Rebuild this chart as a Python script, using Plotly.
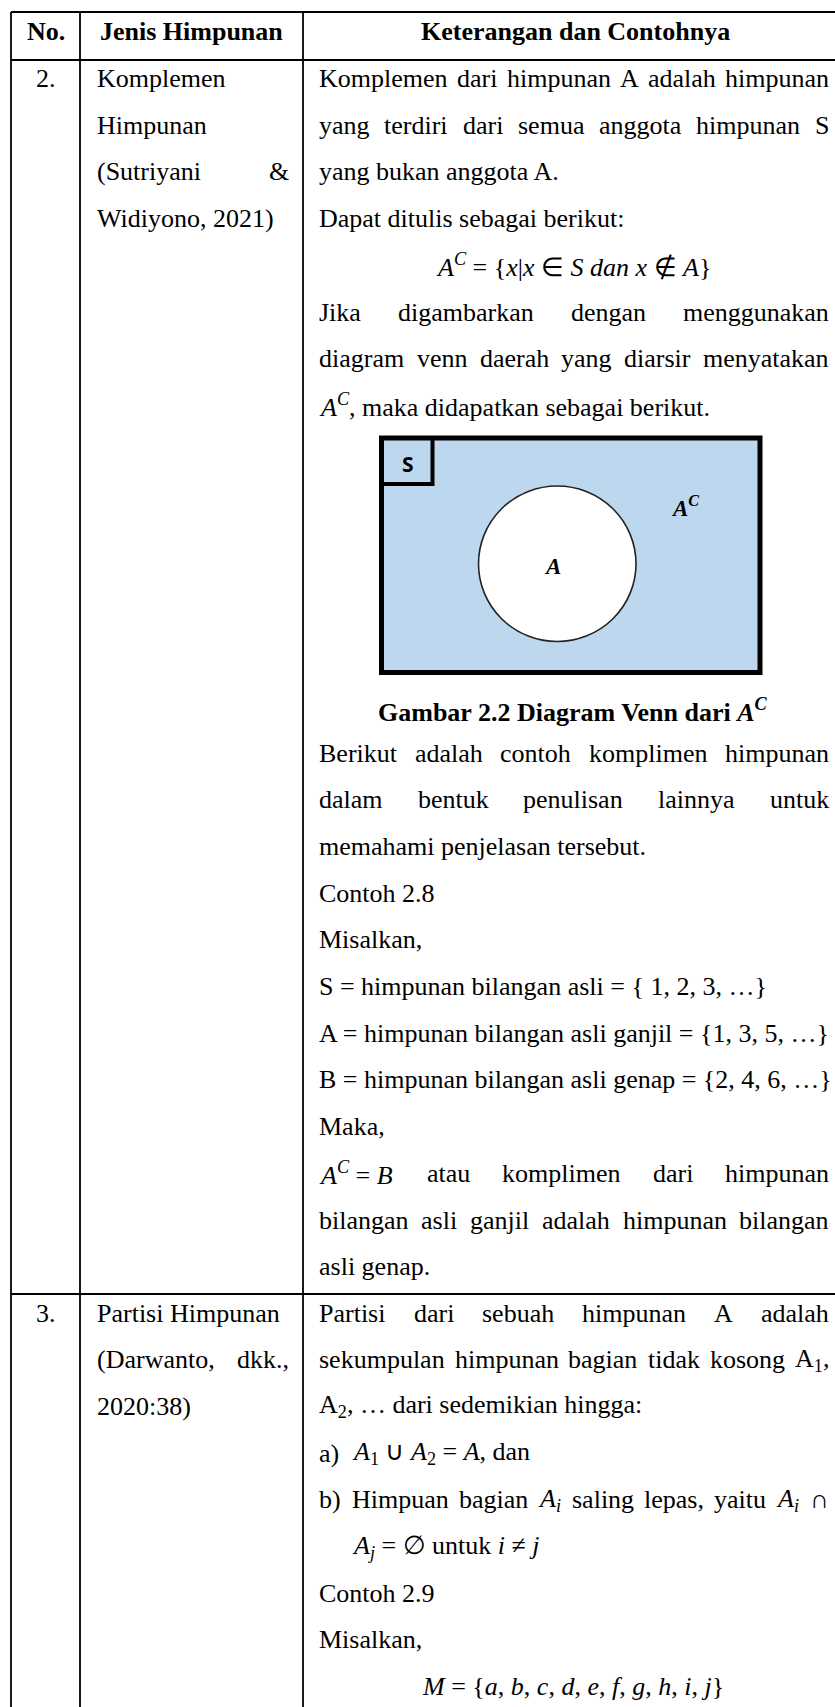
import re
import plotly.graph_objects as go

# page / table frame (pixels)
W, H = 835, 1707
col_x = [11, 80, 303]          # left border, after "No.", after "Jenis Himpunan"
row_y = [12, 60, 1294]         # top border, under header, between rows 2 and 3

header = ["No.", "Jenis Himpunan", "Keterangan dan Contohnya"]
row_numbers = ["2.", "3."]

# column "Jenis Himpunan"  (align, text)
row2_jenis = [("L", "Komplemen"), ("L", "Himpunan"), ("J", "(Sutriyani &"), ("L", "Widiyono, 2021)")]
row3_jenis = [("L", "Partisi Himpunan"), ("J", "(Darwanto, dkk.,"), ("L", "2020:38)")]

# column "Keterangan dan Contohnya", row 2, before the Venn figure
row2_top = [
    ("J", "Komplemen dari himpunan A adalah himpunan"),
    ("J", "yang terdiri dari semua anggota himpunan S"),
    ("L", "yang bukan anggota A."),
    ("L", "Dapat ditulis sebagai berikut:"),
    ("C", "<i>A</i><sup><i>C</i></sup> = {<i>x</i>|<i>x</i> ∈ <i>S dan x</i> ∉ <i>A</i>}"),
    ("J", "Jika digambarkan dengan menggunakan"),
    ("J", "diagram venn daerah yang diarsir menyatakan"),
    ("L", "<i>A</i><sup><i>C</i></sup>, maka didapatkan sebagai berikut."),
]
caption = "Gambar 2.2 Diagram Venn dari <i>A</i><sup><i>C</i></sup>"
venn_labels = ["S", "<b><i>A</i></b>", "<b><i>A</i></b><sup><b><i>C</i></b></sup>"]

# row 2, after the figure
row2_bottom = [
    ("J", "Berikut adalah contoh komplimen himpunan"),
    ("J", "dalam bentuk penulisan lainnya untuk"),
    ("L", "memahami penjelasan tersebut."),
    ("L", "Contoh 2.8"),
    ("L", "Misalkan,"),
    ("L", "S = himpunan bilangan asli = { 1, 2, 3, …}"),
    ("L", "A = himpunan bilangan asli ganjil = {1, 3, 5, …}"),
    ("L", "B = himpunan bilangan asli genap = {2, 4, 6, …}"),
    ("L", "Maka,"),
    ("J", "<i>A</i><sup><i>C</i></sup>\u00a0=\u00a0<i>B</i> atau komplimen dari himpunan"),
    ("J", "bilangan asli ganjil adalah himpunan bilangan"),
    ("L", "asli genap."),
]

# row 3
row3_text = [
    ("J", "Partisi dari sebuah himpunan A adalah"),
    ("J", "sekumpulan himpunan bagian tidak kosong A<sub>1</sub>,"),
    ("L", "A<sub>2</sub>, … dari sedemikian hingga:"),
    ("L", "a)\t<i>A</i><sub>1</sub> ∪ <i>A</i><sub>2</sub> = <i>A</i>, dan"),
    ("J", "b)\tHimpuan bagian <i>A<sub>i</sub></i> saling lepas, yaitu <i>A<sub>i</sub></i> ∩"),
    ("L", "\t<i>A<sub>j</sub></i> = ∅ untuk <i>i</i> ≠ <i>j</i>"),
    ("L", "Contoh 2.9"),
    ("L", "Misalkan,"),
    ("C", "<i>M</i> = {<i>a</i>, <i>b</i>, <i>c</i>, <i>d</i>, <i>e</i>, <i>f</i>, <i>g</i>, <i>h</i>, <i>i</i>, <i>j</i>}"),
]

FONT = "Liberation Serif"
SIZE = 26
LINE = 46.7

# Times New Roman advance widths (Liberation Serif is metric compatible)
TIMES = {" ": 250, "\u00a0": 250, ",": 250, ".": 250, ":": 278, "(": 333, ")": 333, "&": 778,
         "=": 564, "{": 480, "}": 480, "|": 200, "…": 1000, "∪": 750, "∩": 750, "∅": 800,
         "∈": 667, "∉": 667, "≠": 564}
TIMES.update({c: 500 for c in "0123456789"})
TIMES.update(dict(zip("ABCDEFGHIJKLMNOPQRSTUVWXYZ",
                      [722, 667, 667, 722, 611, 556, 722, 722, 333, 389, 722, 611, 889, 722, 722, 556,
                       722, 667, 556, 611, 722, 722, 944, 722, 722, 611])))
TIMES.update(dict(zip("abcdefghijklmnopqrstuvwxyz",
                      [444, 500, 444, 500, 444, 333, 500, 500, 278, 278, 500, 278, 778, 500, 500, 500,
                       500, 333, 389, 278, 500, 500, 722, 500, 500, 444])))


def text_width(html, size=SIZE):
    total, scale = 0.0, 1.0
    for part in re.split(r"(<[^>]+>)", html):
        if part.startswith("<"):
            if part in ("<sup>", "<sub>"):
                scale = 0.7
            elif part in ("</sup>", "</sub>"):
                scale = 1.0
            continue
        for ch in part:
            total += TIMES.get(ch, 500) * scale
    return total / 1000 * size


fig = go.Figure()
annotations = []


def put(x, y, text, anchor="left", size=SIZE, family=FONT, color="black"):
    annotations.append(dict(x=x, y=y, text=text, xref="x", yref="y", xanchor=anchor, yanchor="middle",
                            showarrow=False, borderpad=0, font=dict(family=family, size=size, color=color)))


def place(lines, x0, x1, y0):
    for i, (align, text) in enumerate(lines):
        y = y0 + i * LINE
        left = x0
        if "\t" in text:
            label, text = text.split("\t")
            if label:
                put(x0, y, label)
            left = x0 + 33
        if align == "C":
            put((x0 + x1) / 2, y, text, anchor="center")
        elif align == "J":
            words = text.split(" ")
            gap = (x1 - left - sum(text_width(w) for w in words)) / (len(words) - 1)
            x = left
            for w in words:
                put(x, y, w)
                x += text_width(w) + gap
        else:
            put(left, y, text)


# header
head_y = 31
centers = [(col_x[0] + col_x[1]) / 2, (col_x[1] + col_x[2]) / 2, 575]
for c, t in zip(centers, header):
    put(c, head_y, "<b>" + t + "</b>", anchor="center")

# row numbers
put(centers[0], 78.5, row_numbers[0], anchor="center")
put(centers[0], 1313, row_numbers[1], anchor="center")

# second column
place(row2_jenis, 96, 288, 78.5)
place(row3_jenis, 96, 288, 1313)

# third column
place(row2_top, 318, 828, 78.5)
place(row2_bottom, 318, 828, 753)
place(row3_text, 318, 828, 1313)

# Venn diagram
shapes = []
shapes.append(dict(type="rect", x0=381.5, x1=760, y0=438, y1=672.5, xref="x", yref="y",
                   fillcolor="#BDD7EE", line=dict(color="black", width=5)))
shapes.append(dict(type="circle", x0=478.5, x1=636, y0=486, y1=641.5, xref="x", yref="y",
                   fillcolor="white", line=dict(color="#222222", width=1.6)))
shapes.append(dict(type="rect", x0=381.5, x1=432.5, y0=438, y1=484, xref="x", yref="y",
                   fillcolor="rgba(0,0,0,0)", line=dict(color="black", width=4)))
put(407.5, 464, "<b>" + venn_labels[0] + "</b>", anchor="center", size=21, family="Open Sans")
put(552, 566, venn_labels[1], anchor="center", size=23)
put(685, 506, venn_labels[2], anchor="center", size=23)

put(573, 710, "<b>" + caption + "</b>", anchor="center")

# table grid
for x in col_x:
    shapes.append(dict(type="line", x0=x, x1=x, y0=row_y[0], y1=H + 5, xref="x", yref="y",
                       line=dict(color="black", width=1.8)))
for y in row_y:
    shapes.append(dict(type="line", x0=col_x[0], x1=W + 5, y0=y, y1=y, xref="x", yref="y",
                       line=dict(color="black", width=1.8)))

fig.update_layout(
    width=W, height=H, margin=dict(l=0, r=0, t=0, b=0),
    paper_bgcolor="white", plot_bgcolor="white",
    xaxis=dict(range=[0, W], visible=False, fixedrange=True),
    yaxis=dict(range=[H, 0], visible=False, fixedrange=True),
    shapes=shapes, annotations=annotations, showlegend=False,
)

# the page's default 8px body margin would shift everything; drop it
fig.write_html("out.html", config={"displayModeBar": False},
               post_script="document.body.style.margin='0px';")
